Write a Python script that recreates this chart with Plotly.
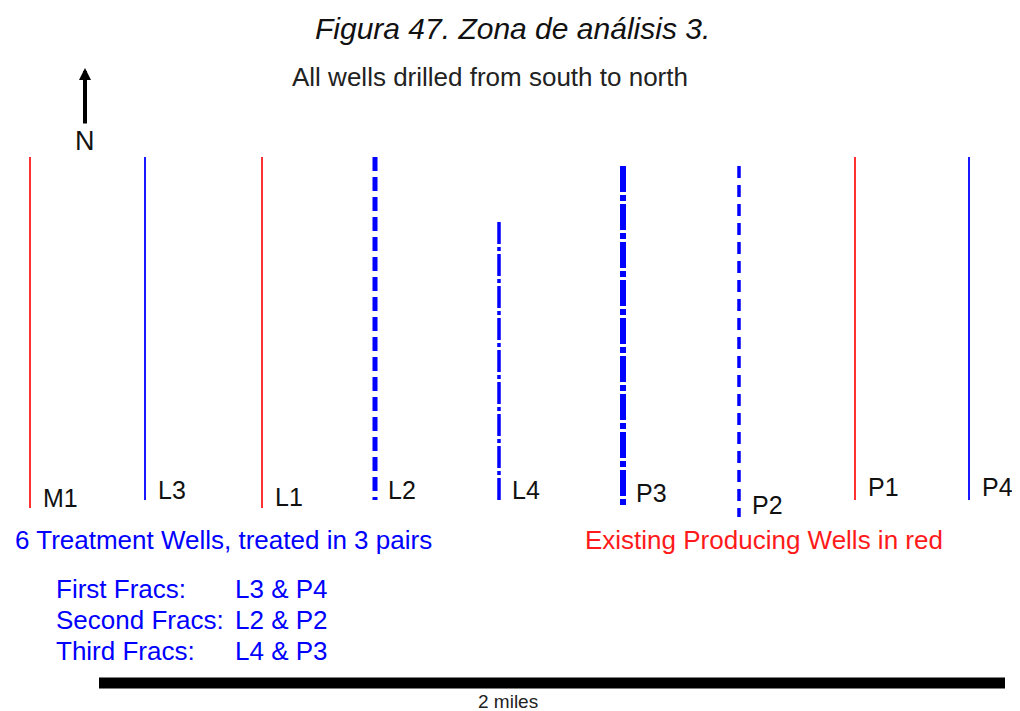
import plotly.graph_objects as go

# ---- data ----
well_names = ["M1", "L3", "L1", "L2", "L4", "P3", "P2", "P1", "P4"]
well_x = [30, 145, 262, 375, 499, 623, 739, 855, 969]
well_top = [157, 157, 157, 157, 222, 166, 166, 157, 157]
well_bottom = [508, 500, 508, 500, 500, 506, 517, 500, 500]
label_y = [498, 490, 497, 490, 490, 493, 505, 487, 487]
well_kind = ["producing", "treat_solid", "producing", "treat_dash", "treat_dashdot",
             "treat_dashdot_thick", "treat_dash_thin", "producing", "treat_solid"]

frac_stage = ["First Fracs:", "Second Fracs:", "Third Fracs:"]
frac_pairs = ["L3 & P4", "L2 & P2", "L4 & P3"]

title_text = "Figura 47. Zona de análisis 3."
subtitle_text = "All wells drilled from south to north"
treat_text = "6 Treatment Wells, treated in 3 pairs"
prod_text = "Existing Producing Wells in red"
scale_text = "2 miles"
scale_bar_x = [99, 1005]

# ---- styles ----
RED = "#ff1a1a"
BLUE = "#0000ff"
styles = {
    "producing": dict(color=RED, width=1.8, dash="solid"),
    "treat_solid": dict(color=BLUE, width=1.8, dash="solid"),
    "treat_dash": dict(color=BLUE, width=5, dash="14px,6px"),
    "treat_dash_thin": dict(color=BLUE, width=3.5, dash="12px,7px"),
    "treat_dashdot": dict(color=BLUE, width=3.5, dash="22px,3px,4px,3px"),
    "treat_dashdot_thick": dict(color=BLUE, width=6, dash="26px,3px,6px,3px"),
}
FONT = "Liberation Sans, Arial, sans-serif"

# page body has an 8px margin: map data coords straight to window pixels
OFF = 8
W, H = 1020 - OFF, 711 - OFF

fig = go.Figure()

for name, x, t, b, k in zip(well_names, well_x, well_top, well_bottom, well_kind):
    fig.add_trace(go.Scatter(x=[x, x], y=[t, b], mode="lines",
                             line=styles[k], hoverinfo="skip", showlegend=False))

# scale bar
fig.add_trace(go.Scatter(x=scale_bar_x, y=[683, 683], mode="lines",
                         line=dict(color="black", width=11), hoverinfo="skip",
                         showlegend=False))

ann = []
for name, x, ly in zip(well_names, well_x, label_y):
    ann.append(dict(x=x + 11, y=ly, text=name, showarrow=False, xanchor="left",
                    yanchor="middle", font=dict(family=FONT, size=25, color="#111")))

ann.append(dict(x=512, y=28, text="<i>" + title_text + "</i>", showarrow=False,
                xanchor="center", yanchor="middle",
                font=dict(family=FONT, size=30, color="#111")))
ann.append(dict(x=490, y=77, text=subtitle_text, showarrow=False,
                xanchor="center", yanchor="middle",
                font=dict(family=FONT, size=26, color="#222")))
ann.append(dict(x=13, y=540, text=treat_text, showarrow=False,
                xanchor="left", yanchor="middle",
                font=dict(family=FONT, size=26, color=BLUE)))
ann.append(dict(x=583, y=540, text=prod_text, showarrow=False,
                xanchor="left", yanchor="middle",
                font=dict(family=FONT, size=26, color=RED)))
for i, (s, p) in enumerate(zip(frac_stage, frac_pairs)):
    yy = 589 + 31 * i
    ann.append(dict(x=54, y=yy, text=s, showarrow=False, xanchor="left",
                    yanchor="middle", font=dict(family=FONT, size=26, color=BLUE)))
    ann.append(dict(x=233, y=yy, text=p, showarrow=False, xanchor="left",
                    yanchor="middle", font=dict(family=FONT, size=26, color=BLUE)))
ann.append(dict(x=508, y=701, text=scale_text, showarrow=False,
                xanchor="center", yanchor="middle",
                font=dict(family=FONT, size=19, color="#222")))

# north arrow
ann.append(dict(x=85, y=68, ax=85, ay=125, xref="x", yref="y", axref="x", ayref="y",
                text="", showarrow=True, arrowhead=2, arrowsize=0.6, arrowwidth=4,
                arrowcolor="black"))
ann.append(dict(x=85, y=141, text="N", showarrow=False, xanchor="center",
                yanchor="middle", font=dict(family=FONT, size=27, color="#111")))

fig.update_layout(
    width=W, height=H,
    margin=dict(l=0, r=0, t=0, b=0),
    paper_bgcolor="white", plot_bgcolor="white",
    xaxis=dict(range=[OFF, OFF + W], visible=False, fixedrange=True),
    yaxis=dict(range=[OFF + H, OFF], visible=False, fixedrange=True),
    annotations=ann,
    showlegend=False,
)

fig.write_html("out.html")
